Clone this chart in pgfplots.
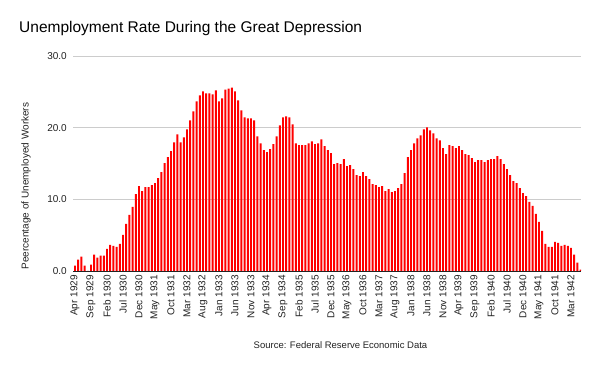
\documentclass[border=0pt]{standalone}
\usepackage{fontspec}
\setmainfont{Liberation Sans}
\usepackage{pgfplots}
\usepackage{pgfplotstable}
\pgfplotsset{compat=1.18}
\definecolor{barred}{HTML}{FF0000}
\definecolor{gridgray}{HTML}{CCCCCC}
\definecolor{txt}{HTML}{222222}
\pgfplotstableread{
i v
0 0.74
1 1.57
2 1.99
3 0.74
4 0.0
5 0.88
6 2.27
7 1.85
8 2.13
9 2.13
10 3.10
11 3.66
12 3.52
13 3.38
14 3.80
15 5.05
16 6.57
17 7.82
18 8.94
19 10.74
20 11.85
21 11.16
22 11.71
23 11.71
24 11.99
25 12.27
26 12.96
27 13.80
28 15.05
29 15.88
30 16.71
31 17.96
32 19.07
33 17.96
34 18.66
35 19.77
36 21.02
37 22.27
38 23.66
39 24.49
40 25.05
41 24.77
42 24.77
43 24.63
44 25.19
45 23.66
46 24.07
47 25.32
48 25.46
49 25.60
50 25.05
51 23.80
52 22.41
53 21.44
54 21.30
55 21.30
56 21.02
57 18.80
58 17.82
59 16.85
60 16.57
61 16.99
62 17.69
63 18.80
64 20.32
65 21.44
66 21.57
67 21.44
68 20.46
69 17.82
70 17.55
71 17.55
72 17.55
73 17.82
74 18.10
75 17.69
76 17.82
77 18.38
78 17.41
79 16.85
80 16.44
81 14.91
82 15.05
83 14.91
84 15.60
85 14.63
86 14.77
87 14.21
88 13.38
89 13.24
90 13.80
91 13.24
92 12.82
93 12.13
94 11.99
95 11.71
96 11.85
97 11.16
98 11.44
99 11.02
100 11.16
101 11.57
102 12.13
103 13.66
104 15.88
105 16.85
106 17.82
107 18.52
108 18.94
109 19.77
110 20.05
111 19.63
112 19.21
113 18.52
114 18.24
115 17.13
116 16.30
117 17.55
118 17.41
119 17.13
120 17.41
121 16.85
122 16.30
123 16.16
124 15.74
125 15.19
126 15.46
127 15.46
128 15.19
129 15.46
130 15.60
131 15.60
132 16.02
133 15.60
134 14.91
135 14.21
136 13.38
137 12.55
138 12.27
139 11.57
140 10.88
141 10.46
142 9.63
143 9.07
144 7.96
145 6.85
146 5.60
147 3.80
148 3.38
149 3.38
150 4.07
151 3.94
152 3.52
153 3.66
154 3.52
155 3.24
156 2.27
157 1.16
158 0.19
}\datatable
\begin{document}
\begin{tikzpicture}
\useasboundingbox (0,0) rectangle (600pt,371pt);
\begin{axis}[
  at={(73pt,100pt)}, anchor=south west,
  scale only axis, width=508pt, height=215pt,
  xmin=-0.625, xmax=158.125, ymin=0, ymax=30,
  axis x line=bottom, axis y line=left,
  x axis line style={draw=txt, line width=0.8pt, -},
  y axis line style={draw=none},
  ymajorgrids, grid style={draw=gridgray, line width=0.8pt},
  major tick length=0pt,
  ytick={0,10,20,30}, yticklabels={0.0,10.0,20.0,30.0},
  yticklabel style={font=\fontsize{10}{12}\selectfont, text=txt, anchor=east, inner sep=0pt, xshift=-6pt},
  xtick={0,5,...,155},
  xticklabels={Apr 1929,Sep 1929,Feb 1930,Jul 1930,Dec 1930,May 1931,Oct 1931,Mar 1932,Aug 1932,Jan 1933,Jun 1933,Nov 1933,Apr 1934,Sep 1934,Feb 1935,Jul 1935,Dec 1935,May 1936,Oct 1936,Mar 1937,Aug 1937,Jan 1938,Jun 1938,Nov 1938,Apr 1939,Sep 1939,Feb 1940,Jul 1940,Dec 1940,May 1941,Oct 1941,Mar 1942},
  xticklabel shift=4pt,
  xticklabel style={font=\fontsize{10}{12}\selectfont, text=txt, rotate=90, anchor=east, inner sep=0pt},
]
\addplot[ybar, bar width=0.62, fill=barred, draw=none, bar shift=0pt] table[x=i, y=v] {\datatable};
\end{axis}
\node[anchor=base west, inner sep=0pt, font=\fontsize{15.5}{18}\selectfont] at (19pt,338pt) {Unemployment Rate During the Great Depression};
\node[rotate=90, inner sep=0pt, font=\fontsize{10}{12}\selectfont, text=txt] at (26pt,185pt) {Peercentage of Unemployed Workers};
\node[anchor=base, inner sep=0pt, font=\fontsize{9.5}{12}\selectfont, text=txt] at (340.5pt,22pt) {Source: Federal Reserve Economic Data};
\end{tikzpicture}
\end{document}
